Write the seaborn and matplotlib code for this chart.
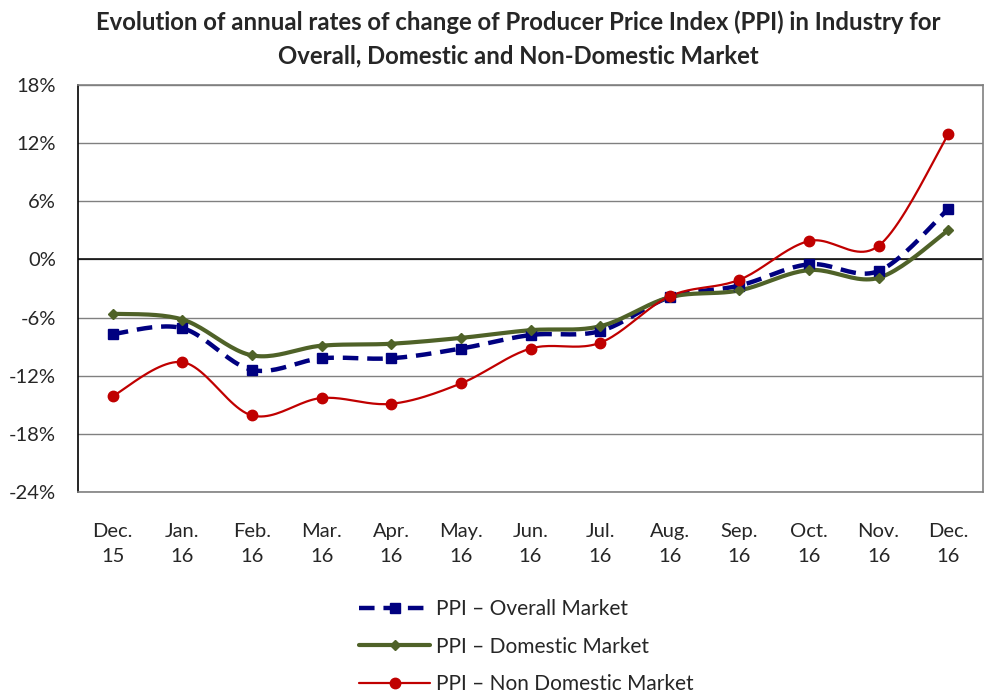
import numpy as np
import pandas as pd
import seaborn as sns
import matplotlib.pyplot as plt
from matplotlib.lines import Line2D
from matplotlib.ticker import FuncFormatter

sns.set_theme(style="white")
plt.rcParams['font.family'] = ['Lato', 'DejaVu Sans']

# Data (annual rate of change, %)
months = ["Dec.\n15", "Jan.\n16", "Feb.\n16", "Mar.\n16", "Apr.\n16", "May.\n16", "Jun.\n16",
          "Jul.\n16", "Aug.\n16", "Sep.\n16", "Oct.\n16", "Nov.\n16", "Dec.\n16"]
overall = [-7.7, -7.1, -11.4, -10.2, -10.2, -9.2, -7.8, -7.4, -3.9, -2.7, -0.5, -1.2, 5.2]
domestic = [-5.6, -6.2, -9.9, -8.9, -8.7, -8.1, -7.3, -6.9, -3.9, -3.2, -1.1, -1.9, 3.0]
non_domestic = [-14.1, -10.6, -16.1, -14.3, -14.9, -12.8, -9.2, -8.6, -3.8, -2.1, 1.9, 1.4, 12.9]


def smooth(xs, ys, n=24):
    """Catmull-Rom style smoothing like Excel's smoothed lines."""
    xs = np.asarray(xs, float)
    ys = np.asarray(ys, float)
    px = np.concatenate([[xs[0]], xs, [xs[-1]]])
    py = np.concatenate([[ys[0]], ys, [ys[-1]]])
    out_x, out_y = [], []
    t = np.linspace(0, 1, n)
    for i in range(1, len(px) - 2):
        p0, p1, p2, p3 = [np.array([px[j], py[j]]) for j in (i - 1, i, i + 1, i + 2)]
        c1 = p1 + (p2 - p0) / 6.0
        c2 = p2 - (p3 - p1) / 6.0
        b = ((1 - t) ** 3)[:, None] * p1 + (3 * (1 - t) ** 2 * t)[:, None] * c1 \
            + (3 * (1 - t) * t ** 2)[:, None] * c2 + (t ** 3)[:, None] * p2
        out_x.extend(b[:, 0])
        out_y.extend(b[:, 1])
    return np.array(out_x), np.array(out_y)


series = [
    ("PPI – Overall Market", overall, "#000080", (0, (3.5, 2)), 3.2, "s", 7.5),
    ("PPI – Domestic Market", domestic, "#4F6228", "-", 3.0, "D", 5),
    ("PPI – Non Domestic Market", non_domestic, "#C00000", "-", 1.6, "o", 7.5),
]

fig = plt.figure(figsize=(9.84, 6.94), dpi=100)
ax = fig.add_axes([78 / 984, (694 - 492) / 694, (983 - 78) / 984, (492 - 85) / 694])

x = np.arange(len(months))
ax.set_ylim(-24, 18)
ax.set_xlim(-0.5, len(months) - 0.5)
ax.set_yticks(np.arange(-24, 19, 6))
ax.yaxis.grid(True, color="#808080", linewidth=1)
ax.axhline(0, color="black", linewidth=1.1, zorder=1)

handles = []
for name, vals, color, ls, lw, mk, ms in series:
    sx, sy = smooth(x, vals)
    df = pd.DataFrame({"x": sx, "y": sy})
    sns.lineplot(data=df, x="x", y="y", sort=False, estimator=None, ax=ax,
                 color=color, linestyle=ls, linewidth=lw, zorder=3)
    ax.plot(x, vals, linestyle="none", marker=mk, markersize=ms, color=color, zorder=4)
    handles.append(Line2D([], [], color=color, linestyle=ls, linewidth=lw,
                          marker=mk, markersize=ms, label=name))

ax.set_xticks(x)
ax.set_xticklabels(months, fontsize=14.5, linespacing=1.6)
ax.yaxis.set_major_formatter(FuncFormatter(lambda v, p: f"{v:.0f}%"))
ax.tick_params(axis="y", labelsize=14.5, pad=16, length=0)
ax.tick_params(axis="x", pad=22, length=0)
ax.set_xlabel("")
ax.set_ylabel("")

for side in ("top", "right", "bottom"):
    ax.spines[side].set_color("#808080")
    ax.spines[side].set_linewidth(1.2)
ax.spines["left"].set_color("black")
ax.spines["left"].set_linewidth(1.2)

fig.text(0.527, 0.985, "Evolution of annual rates of change of Producer Price Index (PPI) in Industry for\n"
         "Overall, Domestic and Non-Domestic Market",
         ha="center", va="top", fontsize=17.2, fontweight="bold", linespacing=1.55)

fig.legend(handles=handles, loc="upper center", bbox_to_anchor=(0.535, 0.152),
           frameon=False, fontsize=15, handlelength=3.4, labelspacing=0.85,
           handletextpad=0.3, borderpad=0)

fig.savefig("out.png", dpi=100)
